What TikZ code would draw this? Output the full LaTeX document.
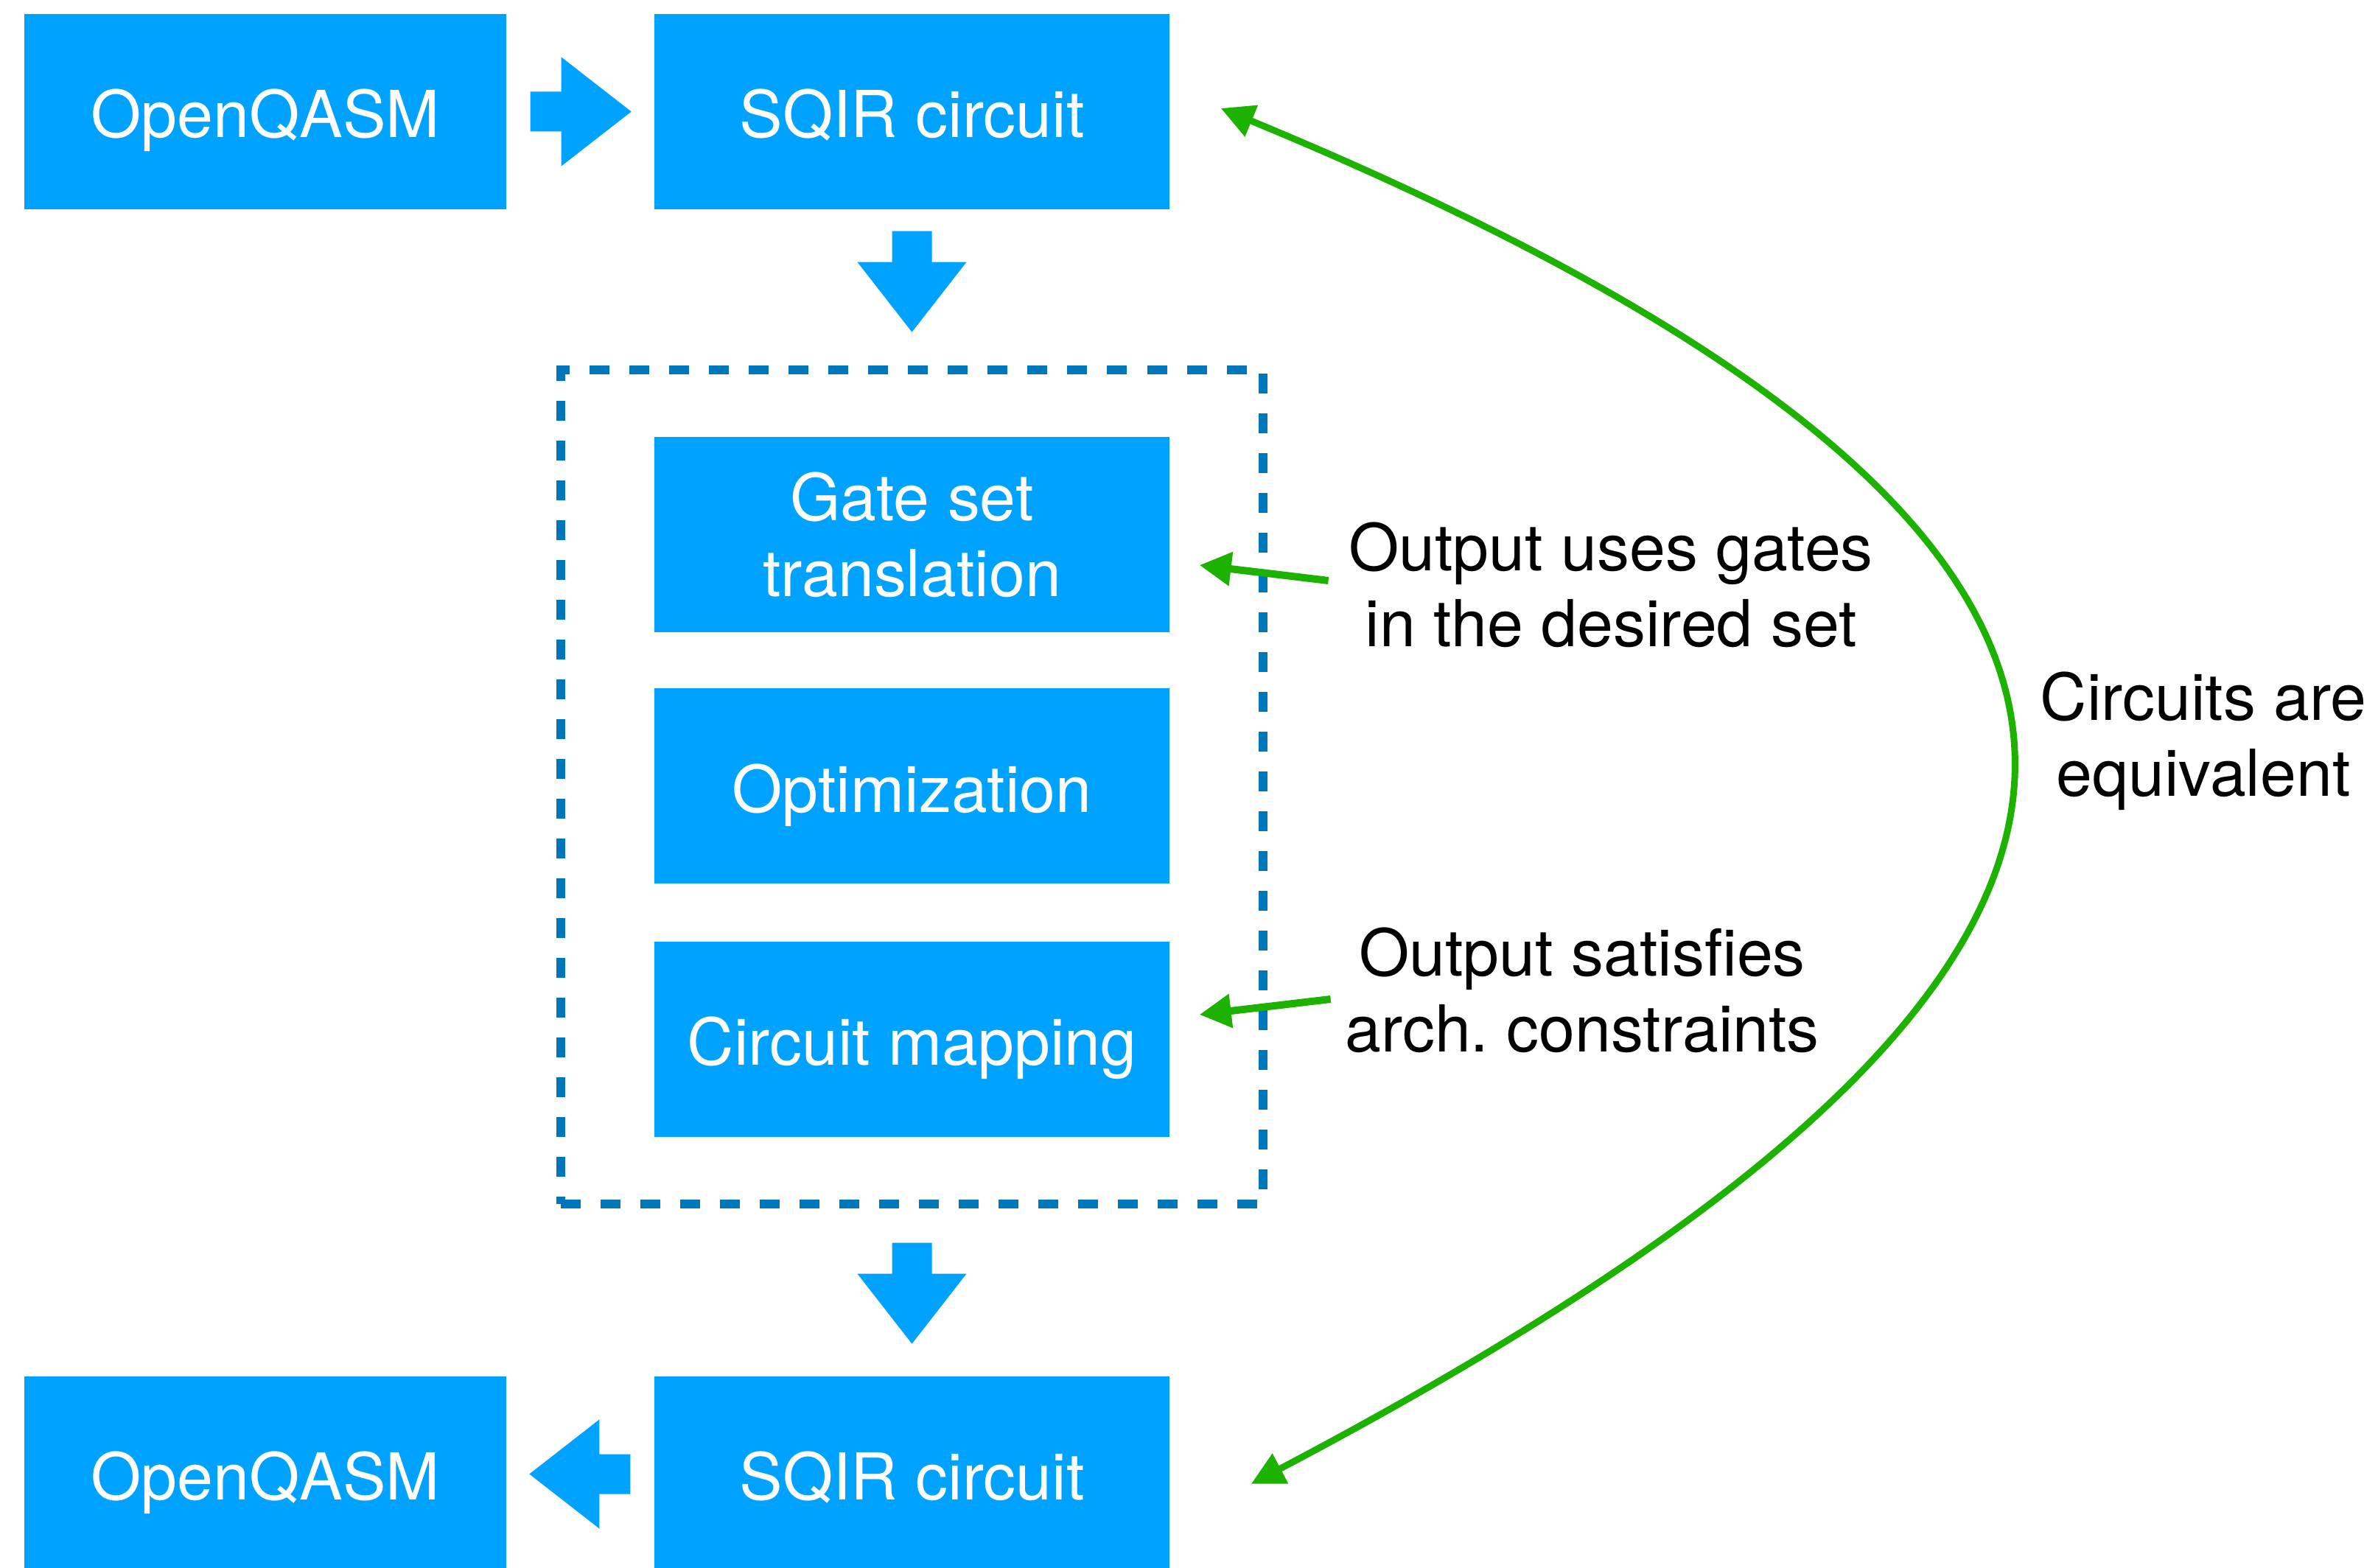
\documentclass[tikz,border=0pt]{standalone}
\usepackage{fontspec}
\setmainfont{TeX Gyre Heros}
\usepackage{tikz}
\usetikzlibrary{calc,arrows.meta,fit}

\definecolor{boxblue}{RGB}{0,162,255}
\definecolor{dashblue}{RGB}{0,118,186}
\definecolor{okgreen}{RGB}{29,177,0}

\begin{document}
\begin{tikzpicture}[
    block/.style={fill=boxblue, text=white, minimum height=2.65cm, inner sep=0pt,
      font=\fontsize{25}{29.3}\selectfont},
    twoline/.style={block, align=center},
    oneline/.style={block, text height=20pt, text depth=0pt},
    note/.style={align=center, inner sep=0pt, font=\fontsize{25}{29.3}\selectfont},
    claim/.style={okgreen, line width=0.1cm, -{Triangle[length=0.43cm,width=0.44cm]}},
    blockarrow/.pic={\fill[boxblue] (0,0.27) -- (0.42,0.27) -- (0.42,0.74) -- (1.37,0)
      -- (0.42,-0.74) -- (0.42,-0.27) -- (0,-0.27) -- cycle;}
  ]
    \useasboundingbox (0,0) rectangle (32.27,21.27);
    \node[oneline, minimum width=6.54cm] (qasmin) at (3.60,19.755) {OpenQASM};
    \node[oneline, minimum width=6.99cm] (sqirin) at (12.375,19.755) {SQIR circuit};
    \node[twoline, minimum width=6.99cm] (gates) at (12.375,14.015) {Gate set\\translation};
    \node[oneline, minimum width=6.99cm] (optim) at (12.375,10.60) {Optimization};
    \node[oneline, minimum width=6.99cm] (mapping) at (12.375,7.165) {Circuit mapping};
    \node[oneline, minimum width=6.99cm] (sqirout) at (12.375,1.265) {SQIR circuit};
    \node[oneline, minimum width=6.54cm] (qasmout) at (3.60,1.265) {OpenQASM};
    % passes of the compiler
    \node[draw=dashblue, line width=0.12cm, dash pattern=on 0.27cm off 0.27cm,
      inner xsep=1.26cm, inner ysep=0.9cm, fit=(gates)(mapping)] (passes) {};
    \pic at ($(qasmin.east)+(0.32,0)$) {blockarrow};
    \pic[rotate=-90] at ($(sqirin.south)+(0,-0.29)$) {blockarrow};
    \pic[rotate=-90] at ($(passes.south)+(0,-0.47)$) {blockarrow};
    \pic[rotate=180] at ($(sqirout.west)+(-0.32,0)$) {blockarrow};
    % what is proved
    \node[note] (uses) at (21.86,13.33) {Output uses gates\\in the desired set};
    \node[note] (satisfies) at (21.47,7.835) {Output satisfies\\arch.\ constraints};
    \node[note] (equiv) at (29.90,11.21) {Circuits are\\equivalent};
    \draw[claim] ($(uses.west)+(-0.27,0.06)$) -- ($(gates.east)+(0.40,-0.415)$);
    \draw[claim] ($(satisfies.west)+(-0.19,-0.125)$) -- ($(mapping.east)+(0.40,0.335)$);
    \draw[claim, line width=0.09cm,
      {Triangle[length=0.45cm,width=0.44cm]}-{Triangle[length=0.45cm,width=0.44cm]}]
      ($(sqirin.east)+(0.69,0.045)$) .. controls (31.80,13.50) and (29.65,7.80)
      .. ($(sqirout.east)+(1.10,-0.135)$);
  \end{tikzpicture}
\end{document}
